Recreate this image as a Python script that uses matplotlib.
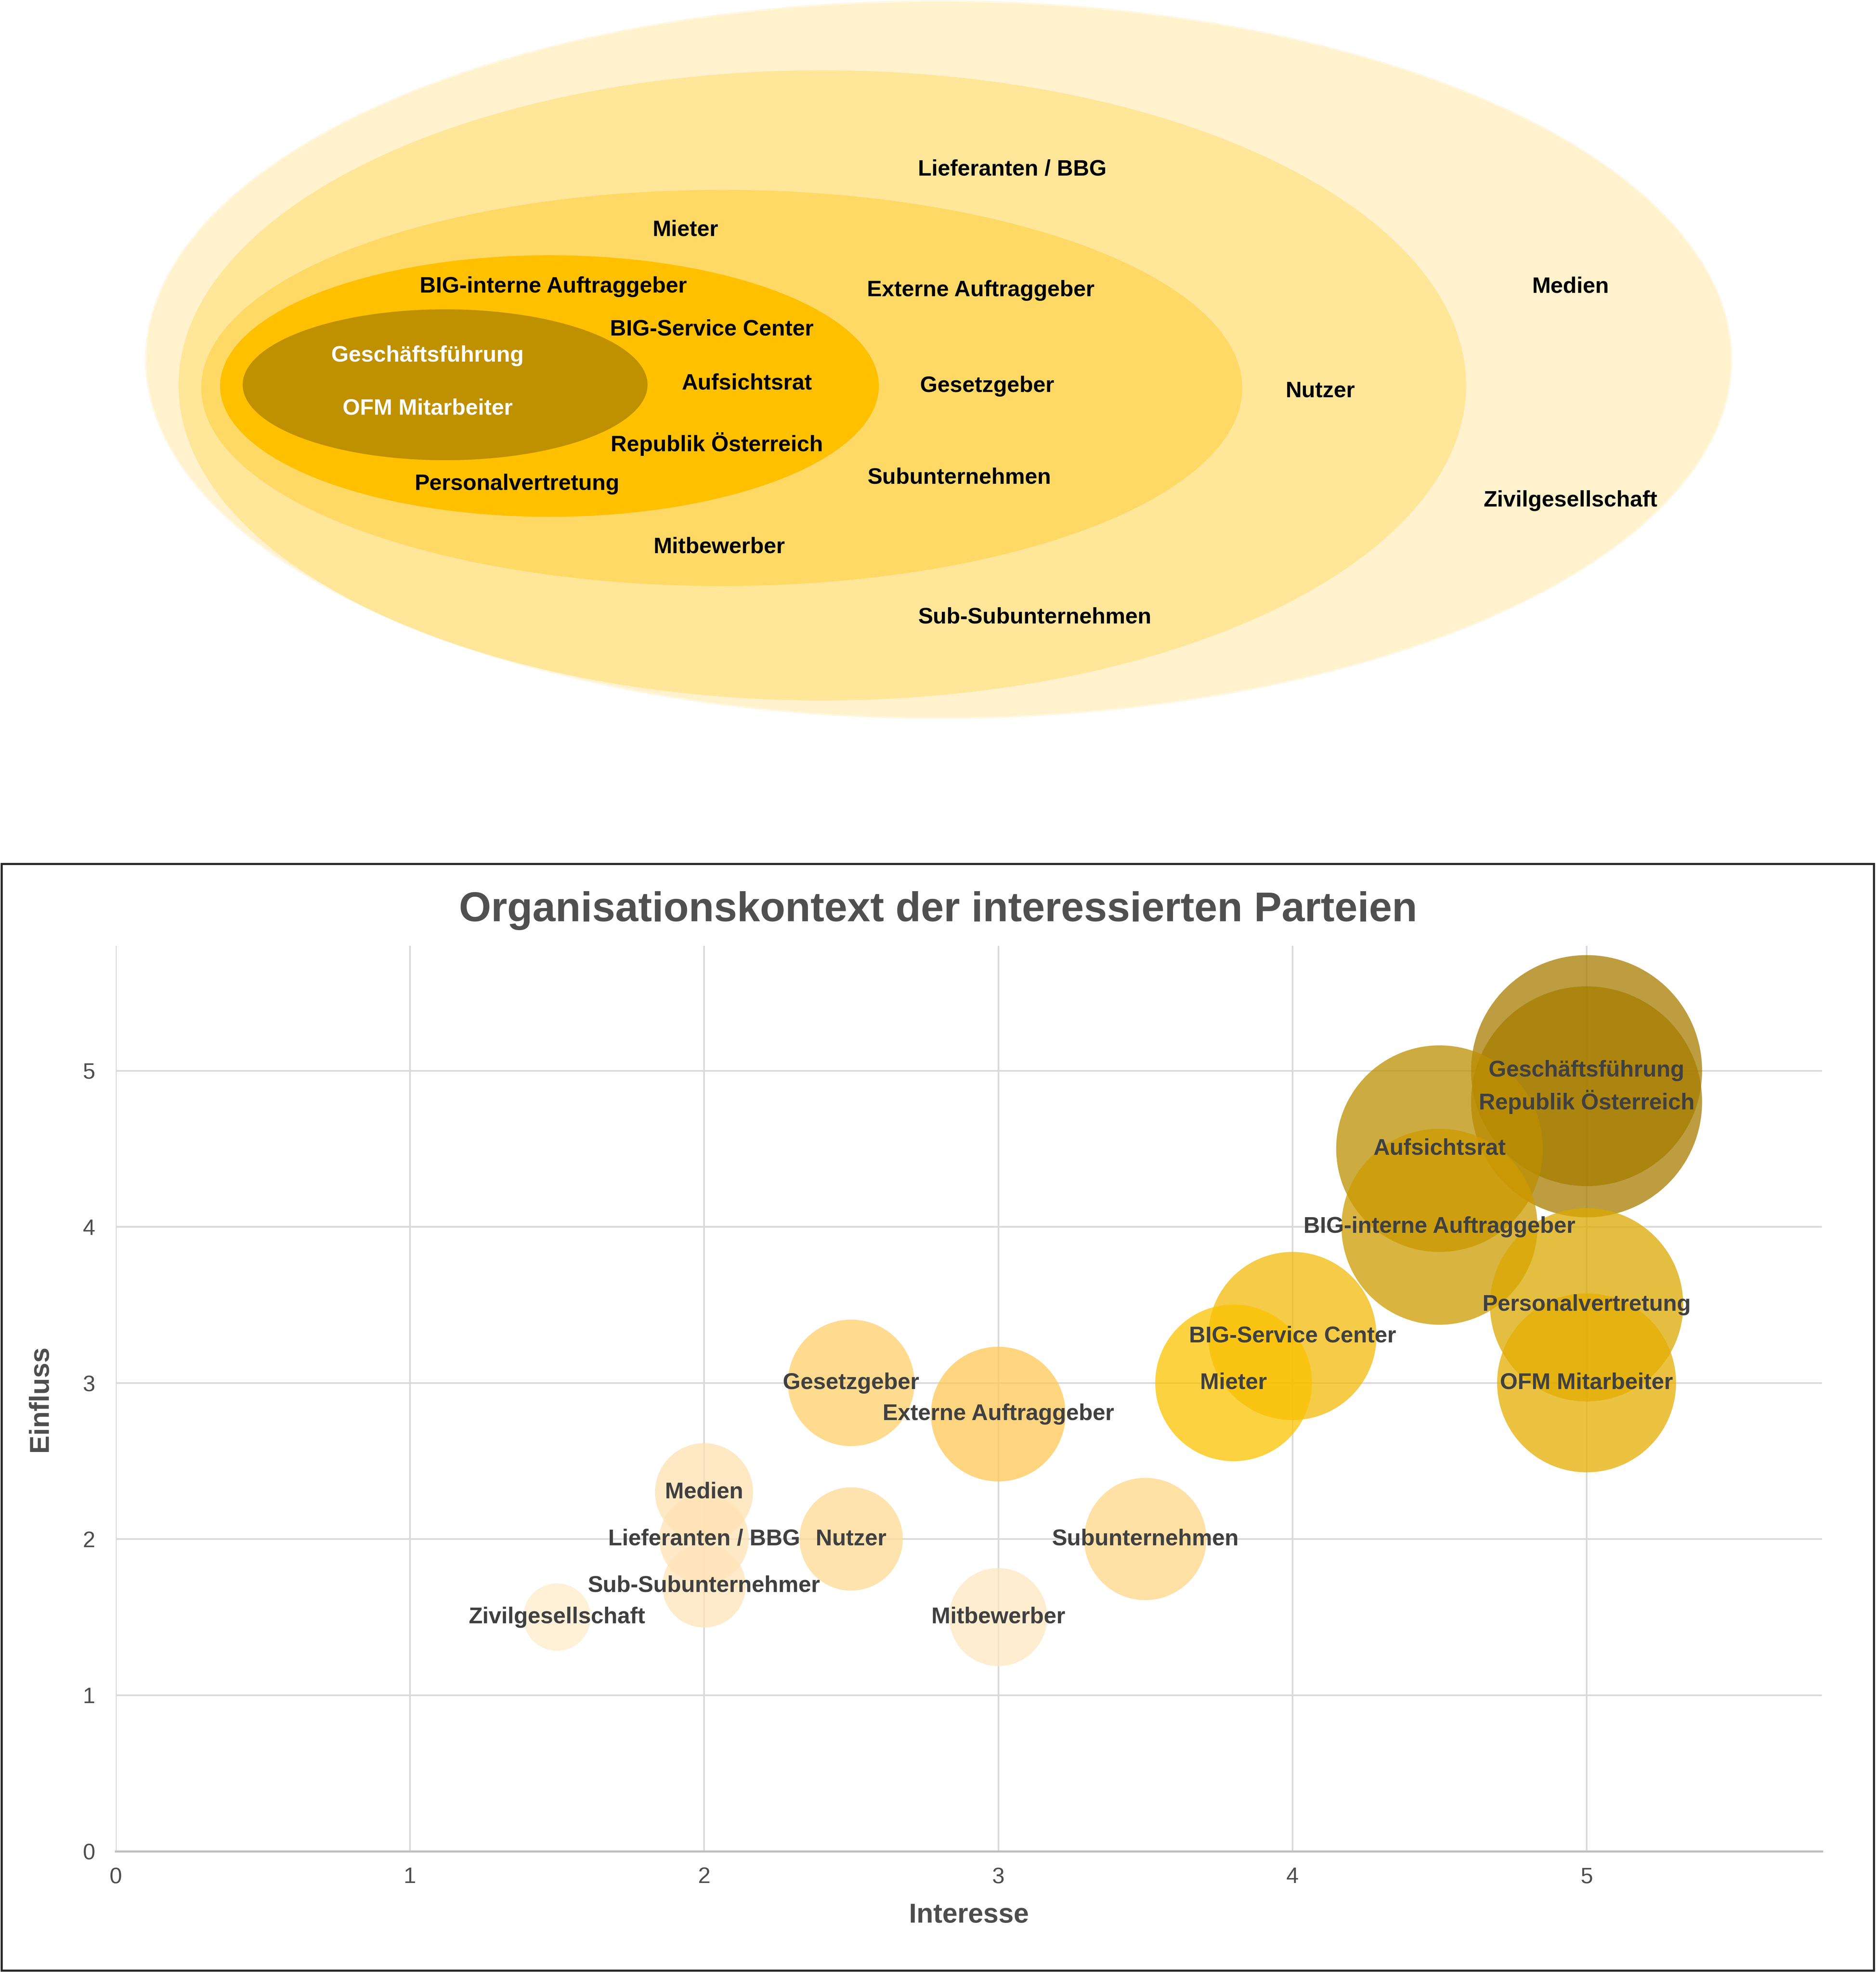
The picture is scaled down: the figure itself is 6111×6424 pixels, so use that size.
import matplotlib.pyplot as plt
from matplotlib.patches import Ellipse, Rectangle

plt.rcParams['font.family'] = ['Liberation Sans', 'DejaVu Sans']

# ---- bubble chart data ----
parties = ['Geschäftsführung', 'Republik Österreich', 'Aufsichtsrat',
           'BIG-interne Auftraggeber', 'Personalvertretung', 'OFM Mitarbeiter',
           'BIG-Service Center', 'Mieter', 'Gesetzgeber', 'Externe Auftraggeber',
           'Subunternehmen', 'Nutzer', 'Medien', 'Lieferanten / BBG',
           'Sub-Subunternehmer', 'Mitbewerber', 'Zivilgesellschaft']
interesse = [5, 5, 4.5, 4.5, 5, 5, 4, 3.8, 2.5, 3, 3.5, 2.5, 2, 2, 2, 3, 1.5]
einfluss = [5, 4.8, 4.5, 4, 3.5, 3, 3.3, 3, 3, 2.8, 2, 2, 2.3, 2, 1.7, 1.5, 1.5]
bubble_size = [10, 10, 8, 7.2, 7, 6, 5.3, 4.6, 3, 3.4, 2.8, 2, 1.8, 1.5, 1.3, 1.8, 0.85]
bubble_colors = ['#A77C00', '#A77C00', '#BC8F00', '#CE9B00', '#DBA900', '#E5AE02',
                 '#F2BA0A', '#FBC300', '#FFCF6B', '#FFC856', '#FFD687', '#FFDA93',
                 '#FFE1B1', '#FFE3B6', '#FFE3B8', '#FFE7C1', '#FFEBCB']

# ---- onion diagram (rings from outside to inside) ----
ring_colors = ['#FFF2CC', '#FFE699', '#FFD966', '#FFC000', '#BF9000']
# left, right, top, bottom in reference pixels
ring_boxes = [(116, 1377, 1, 571), (142, 1166, 56, 557), (160, 988, 151, 466),
              (175, 699, 203, 411), (193, 515, 246, 366)]
ring_labels = ['Lieferanten / BBG', 'Mieter', 'Medien', 'BIG-interne Auftraggeber',
               'Externe Auftraggeber', 'BIG-Service Center', 'Geschäftsführung',
               'Aufsichtsrat', 'Gesetzgeber', 'Nutzer', 'OFM Mitarbeiter',
               'Republik Österreich', 'Subunternehmen', 'Personalvertretung',
               'Zivilgesellschaft', 'Mitbewerber', 'Sub-Subunternehmen']
label_xy = [(805, 135), (545, 183), (1249, 228), (440, 228), (780, 231),
            (566, 262), (340, 283), (594, 305), (785, 307), (1050, 311),
            (340, 325), (570, 353), (763, 380), (411, 385), (1249, 398),
            (572, 435), (823, 491)]
white_labels = ['Geschäftsführung', 'OFM Mitarbeiter']

fig = plt.figure(figsize=(63, 66.23), dpi=97)

# top diagram, in reference pixel units
top = fig.add_axes([0, 1 - 600 / 1568, 1, 600 / 1568])
top.set_xlim(0, 1492)
top.set_ylim(600, 0)
top.axis('off')
for i, ((l, r, t, b), c) in enumerate(zip(ring_boxes, ring_colors)):
    edge = '#FFF7E0' if i == 0 else 'none'
    top.add_patch(Ellipse(((l + r) / 2, (t + b) / 2), r - l, b - t,
                          facecolor=c, edgecolor=edge, linewidth=4))
for name, (x, y) in zip(ring_labels, label_xy):
    col = 'white' if name in white_labels else 'black'
    top.text(x, y, name, ha='center', va='center', fontsize=54,
             fontweight='bold', color=col)

# bubble chart
ax = fig.add_axes([92 / 1492, 1 - 1472 / 1568, (1449 - 92) / 1492, (1472 - 752) / 1568])
ax.set_xlim(0, 5.8)
ax.set_ylim(0, 5.8)
ax.set_xticks(range(6))
ax.set_yticks(range(6))
ax.grid(True, color='#D9D9D9', linewidth=4)
ax.set_axisbelow(True)
for side in ['top', 'right', 'left']:
    ax.spines[side].set_visible(False)
ax.spines['bottom'].set_color('#BFBFBF')
ax.spines['bottom'].set_linewidth(5)
ax.tick_params(length=0, labelsize=54, labelcolor='#4D4D4D')
ax.tick_params(axis='x', pad=38)
ax.tick_params(axis='y', pad=50)

ax.scatter(interesse, einfluss, s=[v * 31200 for v in bubble_size],
           c=bubble_colors, alpha=0.75, edgecolors='none', zorder=3, clip_on=False)
for name, x, y in zip(parties, interesse, einfluss):
    ax.text(x, y, name, ha='center', va='center', fontsize=55,
            fontweight='bold', color='#404040', zorder=5)

ax.text(0.5, -0.0708, 'Interesse', transform=ax.transAxes, ha='center',
        va='center', fontsize=66, fontweight='bold', color='#4D4D4D')
ax.text(-0.0442, 0.5, 'Einfluss', transform=ax.transAxes, ha='center',
        va='center', rotation=90, fontsize=66, fontweight='bold', color='#4D4D4D')

fig.text(0.5, 1 - 724 / 1568, 'Organisationskontext der interessierten Parteien',
         ha='center', va='center', fontsize=100, fontweight='bold', color='#505050')

fig.patches.append(Rectangle((0.0008, 0.0008), 0.998, 0.5611, transform=fig.transFigure,
                             fill=False, edgecolor='#262626', linewidth=5))

fig.savefig('out.png', dpi=97, facecolor='white')
